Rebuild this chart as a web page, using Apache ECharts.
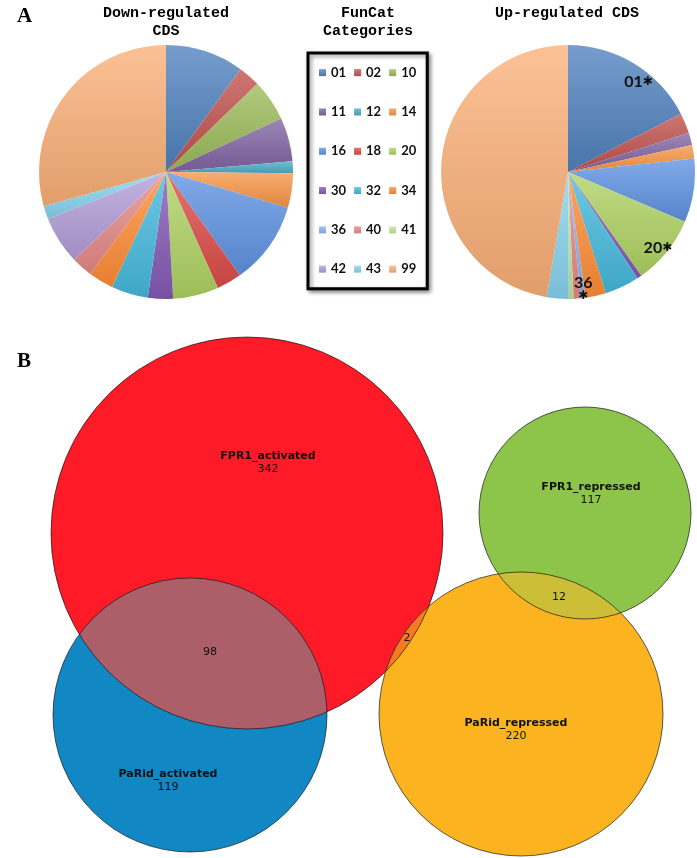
<!DOCTYPE html>
<html>
<head>
<meta charset="utf-8">
<script src="https://cdn.jsdelivr.net/npm/echarts@6/dist/echarts.min.js"></script>
<style>
  html, body { margin: 0; padding: 0; background: #fff; }
  #chart { width: 697px; height: 858px; }
</style>
</head>
<body>
<div id="chart"></div>
<script>
// FunCat categories, in legend order
const categories = ['01', '02', '10', '11', '12', '14', '16', '18', '20', '30', '32', '34', '36', '40', '41', '42', '43', '99']
// share of CDS per category (%)
const downShare = [10.0, 2.8, 5.3, 5.6, 1.5, 4.4, 10.6, 3.2, 5.8, 3.2, 4.7, 3.2, 0, 2.7, 0, 6.1, 1.7, 29.4]
const upShare = [17.4, 2.6, 0, 1.6, 0, 1.7, 8.1, 0, 8.8, 0.6, 4.4, 2.6, 0.6, 0.9, 0.6, 0, 2.8, 47.3]
// categories enriched in the up-regulated set
const upStarred = ['01', '20', '36']

// Venn counts
const vennSets = ['FPR1_activated', 'PaRid_activated', 'FPR1_repressed', 'PaRid_repressed']
const vennOnly = [342, 119, 117, 220]
const vennPairs = [[0, 1], [0, 3], [2, 3]]
const vennShared = [98, 2, 12]

// Venn layout: circle centre and radius, page pixels
const vennCircles = [[247, 533, 196], [190, 715, 137], [585, 513, 106], [521, 714, 142]]
const vennOnlyLabelAt = [[268, 463], [168, 781], [591, 494], [516, 730]]
const vennSharedLabelAt = [[210, 652], [407, 638], [559, 597]]

const sliceColors = ['#4F81BD', '#C0504D', '#9BBB59', '#8064A2', '#4BACC6', '#F79646',
  '#5E92E2', '#DC4C48', '#AED262', '#8459B5', '#45B9DC', '#FF8D36',
  '#8DB3F0', '#E58A86', '#C3E49C', '#B39DD8', '#86D3EE', '#FAB077']
const vennColors = ['#FE1A27', '#1187C4', '#8DC54B', '#FBB41F']
const vennPairColors = ['#AD5F69', '#F67A22', '#CDBE38']

function shade(hex, t) {
  const n = parseInt(hex.slice(1), 16)
  const target = t > 0 ? 255 : 0
  const k = Math.abs(t)
  const c = [n >> 16, (n >> 8) & 255, n & 255].map(v => Math.round(v + (target - v) * k))
  return `rgb(${c[0]},${c[1]},${c[2]})`
}

function sliceFill(hex) {
  return {
    type: 'linear', x: 0, y: 0, x2: 0, y2: 1,
    colorStops: [
      { offset: 0, color: shade(hex, 0.22) },
      { offset: 1, color: shade(hex, -0.1) }
    ]
  }
}

function pieData(values) {
  return categories.map((name, i) => ({
    name,
    value: values[i],
    itemStyle: { color: sliceFill(sliceColors[i]) }
  }))
}

// lens between two circles (pixel space) as polygon points
function lensPoints(c1, c2, steps) {
  const dx = c2[0] - c1[0]
  const dy = c2[1] - c1[1]
  const d = Math.hypot(dx, dy)
  const phi = Math.atan2(dy, dx)
  const a = (d * d + c1[2] * c1[2] - c2[2] * c2[2]) / (2 * d)
  const al1 = Math.acos(a / c1[2])
  const al2 = Math.acos((d - a) / c2[2])
  const pts = []
  for (let s = 0; s <= steps; s++) {
    const t = phi - al1 + 2 * al1 * s / steps
    pts.push([c1[0] + c1[2] * Math.cos(t), c1[1] + c1[2] * Math.sin(t)])
  }
  for (let s = 0; s <= steps; s++) {
    const t = phi + Math.PI - al2 + 2 * al2 * s / steps
    pts.push([c2[0] + c2[2] * Math.cos(t), c2[1] + c2[2] * Math.sin(t)])
  }
  return pts
}

function toPixel(api, c) {
  const p = api.coord([c[0], c[1]])
  return [p[0], p[1], api.size([c[2], c[2]])[0]]
}

const starRich = {
  n: { fontFamily: 'Lato', fontWeight: 'bold', fontSize: 16, color: '#111', lineHeight: 13 },
  a: { fontFamily: 'DejaVu Sans', fontWeight: 'bold', fontSize: 12, color: '#111', lineHeight: 13 }
}
const starPadding = { '01': [18, 0, 0, 21], '20': [6, 0, 0, 0], '36': [6, 0, 0, 3] }

const chart = echarts.init(document.getElementById('chart'))
const venFont = 'DejaVu Sans'

chart.setOption({
  animation: false,
  graphic: [
    { type: 'text', x: 24.5, y: 17, style: { text: 'A', font: 'bold 21px "Liberation Serif"', align: 'center', verticalAlign: 'middle', fill: '#000' } },
    { type: 'text', x: 24, y: 362, style: { text: 'B', font: 'bold 21px "Liberation Serif"', align: 'center', verticalAlign: 'middle', fill: '#000' } },
    { type: 'text', x: 166, y: 4, style: { text: 'Down-regulated\nCDS', font: 'bold 15px "Liberation Mono"', lineHeight: 18, align: 'center', verticalAlign: 'top', fill: '#000' } },
    { type: 'text', x: 368, y: 4, style: { text: 'FunCat\nCategories', font: 'bold 15px "Liberation Mono"', lineHeight: 18, align: 'center', verticalAlign: 'top', fill: '#000' } },
    { type: 'text', x: 567, y: 4, style: { text: 'Up-regulated CDS', font: 'bold 15px "Liberation Mono"', lineHeight: 18, align: 'center', verticalAlign: 'top', fill: '#000' } }
  ],
  legend: {
    left: 308,
    top: 53,
    width: 100,
    orient: 'horizontal',
    data: categories,
    selectedMode: false,
    icon: 'rect',
    itemWidth: 7,
    itemHeight: 7,
    itemGap: 8,
    padding: [4, 11, 4, 11],
    backgroundColor: '#fff',
    borderColor: '#000',
    borderWidth: 3,
    shadowBlur: 4,
    shadowColor: 'rgba(0,0,0,0.45)',
    shadowOffsetX: 2,
    shadowOffsetY: 2,
    textStyle: { fontFamily: 'Lato', fontWeight: 'bold', fontSize: 13, color: '#111', lineHeight: 31.3 }
  },
  grid: { left: 0, right: 0, top: 0, bottom: 0 },
  xAxis: { type: 'value', min: 0, max: 697, show: false },
  yAxis: { type: 'value', min: 0, max: 858, inverse: true, show: false },
  series: [
    {
      name: 'Down-regulated CDS',
      type: 'pie',
      center: [166, 172],
      radius: 127,
      startAngle: 90,
      silent: true,
      label: { show: false },
      labelLine: { show: false },
      data: pieData(downShare)
    },
    {
      name: 'Up-regulated CDS',
      type: 'pie',
      center: [568, 172],
      radius: 127,
      startAngle: 90,
      silent: true,
      label: { show: false },
      labelLine: { show: false },
      data: pieData(upShare)
    },
    {
      // ring carrying the asterisk labels near the rim
      name: 'up-labels',
      type: 'pie',
      center: [568, 172],
      radius: [98, 127],
      startAngle: 90,
      silent: true,
      itemStyle: { color: 'rgba(0,0,0,0)' },
      labelLine: { show: false },
      data: categories.map((name, i) => ({
        name,
        value: upShare[i],
        label: upStarred.includes(name)
          ? {
              show: true,
              position: 'inside',
              rotate: 0,
              padding: starPadding[name],
              formatter: name === '36' ? '{n|36}\n{a|✱}' : `{n|${name}}{a|✱}`,
              rich: starRich
            }
          : { show: false }
      }))
    },
    {
      // circle fills
      type: 'custom',
      silent: true,
      data: vennCircles.map((c, i) => [c[0], c[1], c[2], i]),
      renderItem: (params, api) => {
        const p = toPixel(api, [api.value(0), api.value(1), api.value(2)])
        return {
          type: 'circle',
          shape: { cx: p[0], cy: p[1], r: p[2] },
          style: { fill: vennColors[api.value(3)] }
        }
      }
    },
    {
      // overlap regions
      type: 'custom',
      silent: true,
      data: vennPairs.map(([i, j], k) => [i, j, k]),
      renderItem: (params, api) => {
        const c1 = toPixel(api, vennCircles[api.value(0)])
        const c2 = toPixel(api, vennCircles[api.value(1)])
        return {
          type: 'polygon',
          shape: { points: lensPoints(c1, c2, 60) },
          style: { fill: vennPairColors[api.value(2)] }
        }
      }
    },
    {
      // outlines
      type: 'custom',
      silent: true,
      data: vennCircles.map((c, i) => [c[0], c[1], c[2], i]),
      renderItem: (params, api) => {
        const p = toPixel(api, [api.value(0), api.value(1), api.value(2)])
        return {
          type: 'circle',
          shape: { cx: p[0], cy: p[1], r: p[2] },
          style: { fill: 'none', stroke: 'rgba(20,20,20,0.85)', lineWidth: 0.8 }
        }
      }
    },
    {
      // region labels: set name + exclusive count
      type: 'custom',
      silent: true,
      data: vennOnlyLabelAt.map((p, i) => [p[0], p[1], i]),
      renderItem: (params, api) => {
        const p = api.coord([api.value(0), api.value(1)])
        const i = api.value(2)
        return {
          type: 'group',
          children: [
            { type: 'text', x: p[0], y: p[1] - 6.5, style: { text: vennSets[i], font: `bold 11px "${venFont}"`, fill: '#111', align: 'center', verticalAlign: 'middle' } },
            { type: 'text', x: p[0], y: p[1] + 6.5, style: { text: String(vennOnly[i]), font: `11px "${venFont}"`, fill: '#111', align: 'center', verticalAlign: 'middle' } }
          ]
        }
      }
    },
    {
      // overlap counts
      type: 'custom',
      silent: true,
      data: vennSharedLabelAt.map((p, k) => [p[0], p[1], k]),
      renderItem: (params, api) => {
        const p = api.coord([api.value(0), api.value(1)])
        return {
          type: 'text',
          x: p[0],
          y: p[1],
          style: { text: String(vennShared[api.value(2)]), font: `11px "${venFont}"`, fill: '#111', align: 'center', verticalAlign: 'middle' }
        }
      }
    }
  ]
})
</script>
</body>
</html>
